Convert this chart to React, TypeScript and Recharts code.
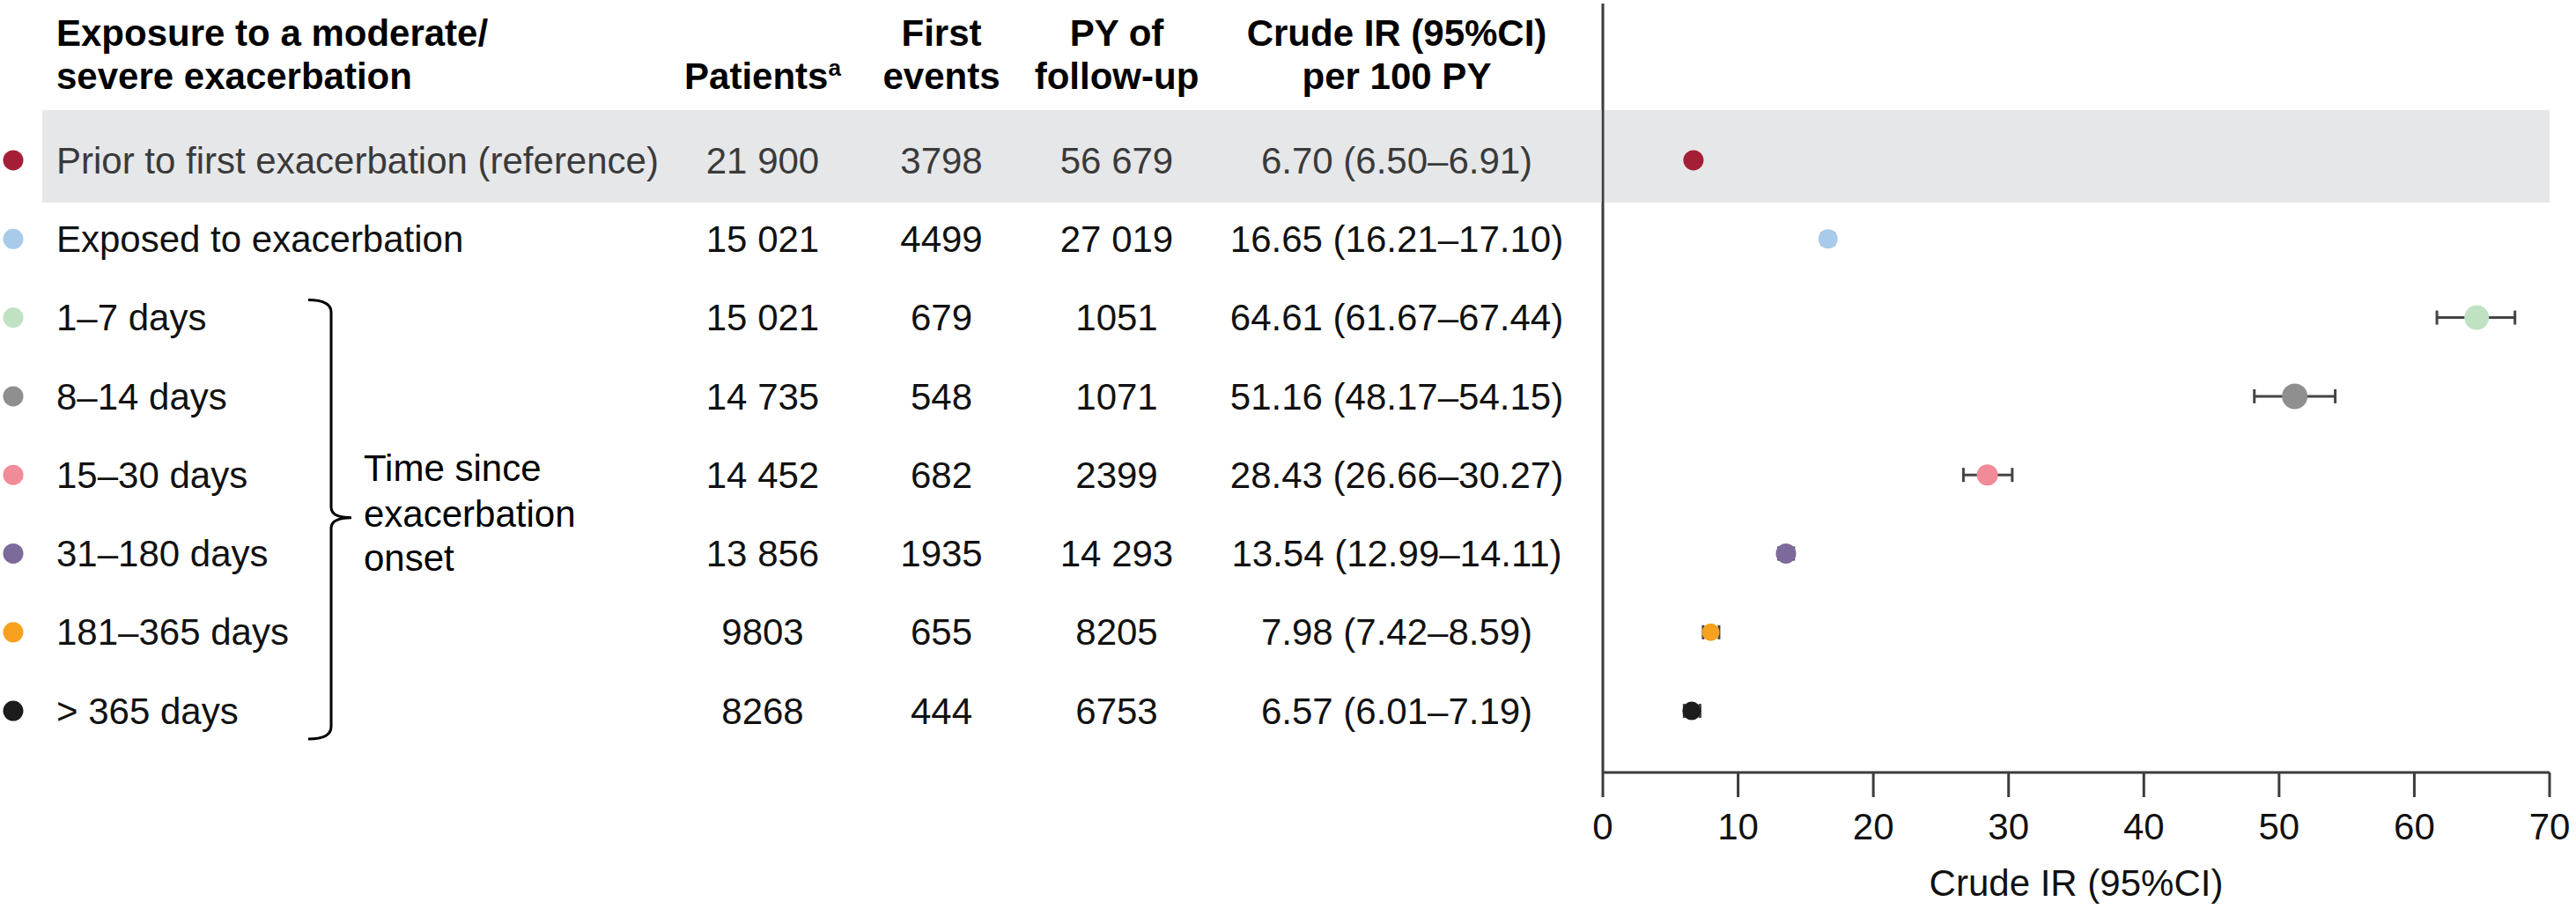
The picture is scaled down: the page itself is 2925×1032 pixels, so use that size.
import React from "react";
import {
  ScatterChart,
  Scatter,
  XAxis,
  YAxis,
  ErrorBar,
  ReferenceArea,
} from "recharts";

// table rows, top to bottom
const LABELS = [
  "Prior to first exacerbation (reference)",
  "Exposed to exacerbation",
  "1–7 days",
  "8–14 days",
  "15–30 days",
  "31–180 days",
  "181–365 days",
  "> 365 days",
];
const PATIENTS = [21900, 15021, 15021, 14735, 14452, 13856, 9803, 8268];
const FIRST_EVENTS = [3798, 4499, 679, 548, 682, 1935, 655, 444];
const PY_FOLLOW_UP = [56679, 27019, 1051, 1071, 2399, 14293, 8205, 6753];
const IR = [6.7, 16.65, 64.61, 51.16, 28.43, 13.54, 7.98, 6.57];
const IR_LOW = [6.5, 16.21, 61.67, 48.17, 26.66, 12.99, 7.42, 6.01];
const IR_HIGH = [6.91, 17.1, 67.44, 54.15, 30.27, 14.11, 8.59, 7.19];
const X_TICKS = [0, 10, 20, 30, 40, 50, 60, 70];
const GROUP_LABEL = ["Time since", "exacerbation", "onset"];

// styling
const COLORS = ["#a41f35", "#a9cbea", "#bfe2c2", "#8f8f8f", "#f08b97", "#7c6b9a", "#f7a11e", "#1c1c1c"];
const DOT_R = [11.5, 11, 14, 14.5, 12, 11.5, 10, 10.5];
const FONT = "'Liberation Sans', Arial, Helvetica, sans-serif";
const BAND_FILL = "#e6e7e9";
const AXIS_COLOR = "#3c3c3c";

const W = 2925;
const H = 1032;
const TOP = 4;
const AXIS_H = 155;
const PLOT_LEFT = 1820;
const Y_DOMAIN: [number, number] = [-1.993, 7.783];
const ROW_PX = (H - TOP - AXIS_H) / (Y_DOMAIN[1] - Y_DOMAIN[0]);
const HEADER_TICK = -1.455;
const BAND: [number, number] = [-0.638, 0.538];
const COL = { patients: 866, events: 1069, py: 1268, ir: 1586 };

const fmt = (n: number) =>
  n >= 10000 ? `${Math.floor(n / 1000)} ${String(n % 1000).padStart(3, "0")}` : String(n);

const rows = IR.map((v, i) => ({
  x: v,
  y: i,
  idx: i,
  err: [v - IR_LOW[i], IR_HIGH[i] - v],
}));

function Header({ y }: { y: number }) {
  return (
    <g fontFamily={FONT} fontSize={42} fontWeight="bold" fill="#000">
      <text x={64} y={y}>Exposure to a moderate/</text>
      <text x={64} y={y + 49}>severe exacerbation</text>
      <text x={COL.patients} y={y + 49} textAnchor="middle">
        Patients
        <tspan dy={-15} fontSize={26}>a</tspan>
      </text>
      <text x={COL.events} y={y} textAnchor="middle">First</text>
      <text x={COL.events} y={y + 49} textAnchor="middle">events</text>
      <text x={COL.py} y={y} textAnchor="middle">PY of</text>
      <text x={COL.py} y={y + 49} textAnchor="middle">follow-up</text>
      <text x={COL.ir} y={y} textAnchor="middle">Crude IR (95%CI)</text>
      <text x={COL.ir} y={y + 49} textAnchor="middle">per 100 PY</text>
    </g>
  );
}

function Brace({ y }: { y: number }) {
  const top = y - 20;
  const bottom = y + 5 * ROW_PX + 32;
  const mid = y + 2.5 * ROW_PX + 4;
  const d = `M350 ${top} Q376 ${top} 376 ${top + 14} L376 ${mid - 12} Q376 ${mid} 399 ${mid} Q376 ${mid} 376 ${mid + 12} L376 ${bottom - 14} Q376 ${bottom} 350 ${bottom}`;
  return (
    <g>
      <path d={d} fill="none" stroke="#000" strokeWidth={3} />
      <g fontFamily={FONT} fontSize={42} fill="#000">
        <text x={413} y={mid - 42}>{GROUP_LABEL[0]}</text>
        <text x={413} y={mid + 10}>{GROUP_LABEL[1]}</text>
        <text x={413} y={mid + 60}>{GROUP_LABEL[2]}</text>
      </g>
    </g>
  );
}

function RowTick(props: any) {
  const { y, payload } = props;
  const v = payload.value;
  if (v === HEADER_TICK) return <Header y={y} />;
  const i = v as number;
  return (
    <g>
      {i === 0 && (
        <rect
          x={48}
          y={y + BAND[0] * ROW_PX}
          width={PLOT_LEFT - 1.5 - 48}
          height={(BAND[1] - BAND[0]) * ROW_PX}
          fill={BAND_FILL}
        />
      )}
      <circle cx={15} cy={y} r={11.5} fill={COLORS[i]} />
      <g fontFamily={FONT} fontSize={42} fill={i === 0 ? "#3a3a3a" : "#111"}>
        <text x={64} y={y} dy="0.35em">{LABELS[i]}</text>
        <text x={COL.patients} y={y} dy="0.35em" textAnchor="middle">{fmt(PATIENTS[i])}</text>
        <text x={COL.events} y={y} dy="0.35em" textAnchor="middle">{fmt(FIRST_EVENTS[i])}</text>
        <text x={COL.py} y={y} dy="0.35em" textAnchor="middle">{fmt(PY_FOLLOW_UP[i])}</text>
        <text x={COL.ir} y={y} dy="0.35em" textAnchor="middle">
          {`${IR[i].toFixed(2)} (${IR_LOW[i].toFixed(2)}–${IR_HIGH[i].toFixed(2)})`}
        </text>
      </g>
      {i === 2 && <Brace y={y} />}
    </g>
  );
}

function Dot(props: any) {
  const { cx, cy, payload } = props;
  if (cx == null || cy == null) return null;
  return <circle cx={cx} cy={cy} r={DOT_R[payload.idx]} fill={COLORS[payload.idx]} />;
}

export default function App() {
  return (
    <div style={{ position: "absolute", left: 0, top: 0, width: W, height: H, background: "#fff" }}>
      <ScatterChart width={W} height={H} margin={{ top: TOP, right: 30, bottom: 0, left: 0 }}>
        <ReferenceArea
          x1={0.1}
          x2={70}
          y1={BAND[0]}
          y2={BAND[1]}
          fill={BAND_FILL}
          fillOpacity={1}
          stroke="none"
        />
        <XAxis
          type="number"
          dataKey="x"
          domain={[0, 70]}
          ticks={X_TICKS}
          interval={0}
          height={AXIS_H}
          tickSize={28}
          tickMargin={18}
          axisLine={{ stroke: AXIS_COLOR, strokeWidth: 3 }}
          tickLine={{ stroke: AXIS_COLOR, strokeWidth: 3 }}
          tick={{ fontSize: 42, fill: "#111", fontFamily: FONT }}
          label={{
            value: "Crude IR (95%CI)",
            position: "insideBottom",
            offset: 15,
            fontSize: 42,
            fill: "#111",
            fontFamily: FONT,
          }}
        />
        <YAxis
          type="number"
          dataKey="y"
          domain={Y_DOMAIN}
          allowDataOverflow
          reversed
          width={PLOT_LEFT}
          ticks={[HEADER_TICK, 0, 1, 2, 3, 4, 5, 6, 7]}
          interval={0}
          tickLine={false}
          axisLine={{ stroke: AXIS_COLOR, strokeWidth: 3 }}
          tick={(p: any) => <RowTick {...p} />}
        />
        <Scatter data={rows} shape={(p: any) => <Dot {...p} />} isAnimationActive={false}>
          <ErrorBar dataKey="err" direction="x" width={8} stroke="#444" strokeWidth={3} />
        </Scatter>
      </ScatterChart>
    </div>
  );
}
